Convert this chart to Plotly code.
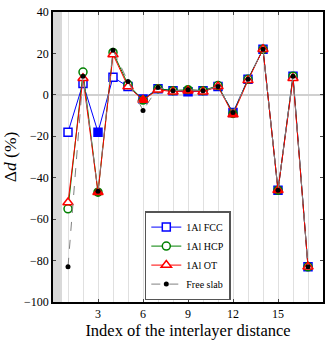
import plotly.graph_objects as go

# interlayer index and relaxations (%)
idx = list(range(1, 18))
fcc = [-18, 5.5, -18, 8.5, 4, -2, 3, 2, 1.5, 2, 4, -8.5, 7.5, 22, -46, 9, -83]
hcp = [-55, 11, -47, 20.5, 5, -2.5, 3, 2, 2.5, 2, 4.5, -9, 7.5, 22, -46, 9, -83]
ot = [-52, 8, -47, 19.5, 4, -2.5, 2.5, 1.5, 2, 1.5, 4, -9.5, 7, 22, -46, 8, -83]
free = [-83, 9, -46.5, 21.5, 6.5, -7.5, 3.5, 2, 2.5, 2, 4, -8.5, 7.5, 22, -46, 9, -83]

xticks = [3, 6, 9, 12, 15]
yticks = [40, 20, 0, -20, -40, -60, -80, -100]
ytext = ["40", "20", "0", "\u221220", "\u221240", "\u221260", "\u221280", "\u2212100"]

SERIF = "Liberation Serif, DejaVu Serif, serif"


def fills(color):
    # filled markers every third layer, open (white) elsewhere
    return [color if i % 3 == 0 else "white" for i in idx]


fig = go.Figure()

series = [
    ("1Al FCC", fcc, "blue", "square", 8),
    ("1Al HCP", hcp, "green", "circle", 8),
    ("1Al OT", ot, "red", "triangle-up", 9),
]
for name, vals, col, sym, size in series:
    fig.add_trace(go.Scatter(
        x=idx, y=vals, name=name, mode="lines+markers",
        line=dict(color=col, width=1),
        marker=dict(symbol=sym, size=size, color=fills(col),
                    line=dict(color=col, width=1.5)),
    ))

fig.add_trace(go.Scatter(
    x=idx, y=free, name="Free slab", mode="lines+markers",
    line=dict(color="gray", width=1, dash="dash"),
    marker=dict(symbol="circle", size=5, color="black"),
))

# shaded surface region
fig.add_shape(type="rect", xref="x", yref="paper", x0=0, x1=0.6, y0=0, y1=1,
              fillcolor="#d9d9d9", line_width=0, layer="below")

fig.update_layout(
    width=332, height=341,
    margin=dict(l=53, r=9, t=12, b=39),
    paper_bgcolor="white", plot_bgcolor="white",
    font=dict(family=SERIF, size=12, color="black"),
    showlegend=True,
    legend=dict(x=0.34, y=0.16, xanchor="left", yanchor="middle",
                bgcolor="white", bordercolor="#555", borderwidth=1.5,
                font=dict(family=SERIF, size=10), tracegroupgap=0,
                itemwidth=30),
)
fig.update_xaxes(
    range=[0, 18], tickvals=xticks, ticks="inside", ticklen=3,
    showline=True, linecolor="black", linewidth=1.5, mirror="ticks",
    showgrid=True, gridcolor="#e0e0e0", gridwidth=1,
    minor=dict(dtick=1, tick0=0, showgrid=True, gridcolor="#e0e0e0", gridwidth=1),
    zeroline=False, automargin=False,
    title=dict(text="Index of the interlayer distance", font=dict(size=16.5), standoff=3),
)
fig.update_yaxes(
    range=[-100, 40], tickvals=yticks, ticktext=ytext, ticks="inside", ticklen=3,
    showline=True, linecolor="black", linewidth=1.5, mirror="ticks",
    showgrid=False, zeroline=True, zerolinecolor="#d0d0d0", zerolinewidth=1.5,
    automargin=False,
    title=dict(text="\u0394<i>d</i> (%)", font=dict(size=17.5), standoff=4),
)

fig.write_html("out.html", config={"displayModeBar": False},
               post_script="document.body.style.margin='0';")
